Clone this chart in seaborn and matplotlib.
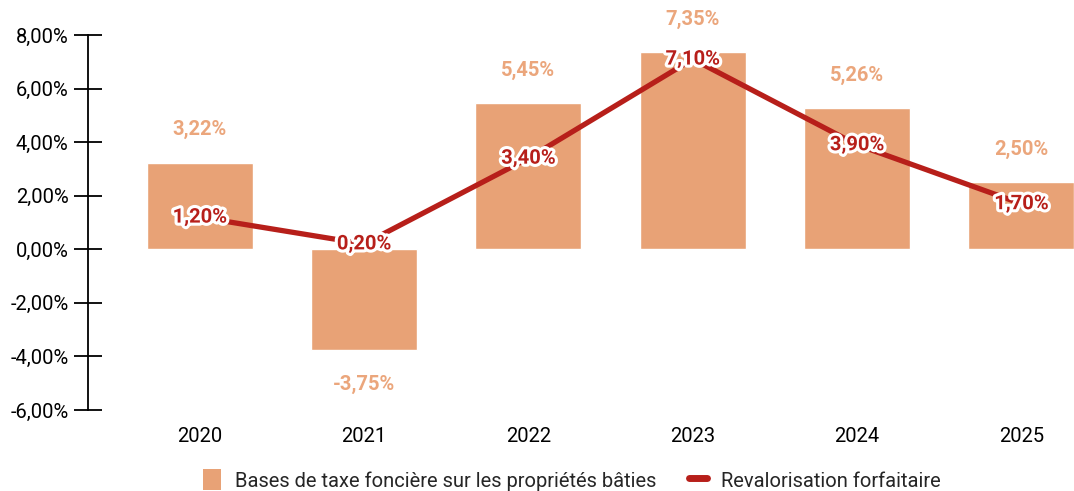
import numpy as np
import matplotlib
matplotlib.use("Agg")
import matplotlib.pyplot as plt
import matplotlib.patheffects as pe
from matplotlib.patches import Patch
from matplotlib.lines import Line2D
import seaborn as sns

years = ["2020", "2021", "2022", "2023", "2024", "2025"]
bases = [3.22, -3.75, 5.45, 7.35, 5.26, 2.50]
revalo = [1.20, 0.20, 3.40, 7.10, 3.90, 1.70]
y_ticks = [-6, -4, -2, 0, 2, 4, 6, 8]

bar_color = "#E8A276"
line_color = "#B71F1A"
fs = 14.5


def fr_pct(v):
    return f"{v:.2f}%".replace(".", ",")


sns.set_theme(style="white")
plt.rcParams["font.family"] = ["Roboto", "DejaVu Sans"]

fig = plt.figure(figsize=(10.74, 4.91), dpi=100)
ax = fig.add_axes([88 / 1074, 81 / 491, 986 / 1074, 375 / 491])

sns.barplot(x=years, y=bases, color=bar_color, saturation=1, width=0.645, ax=ax)
sns.lineplot(x=np.arange(len(years)), y=revalo, color=line_color, linewidth=3.8, ax=ax)

# bar labels above / below bars
for i, v in enumerate(bases):
    off = 24 if v >= 0 else -25
    ax.annotate(fr_pct(v), (i, v), xytext=(0, off), textcoords="offset points",
                ha="center", va="center", color="#EBA67C", fontsize=fs,
                fontweight="semibold", annotation_clip=False, clip_on=False)

# line labels on points with white outline
for i, v in enumerate(revalo):
    ax.text(i, v, fr_pct(v), ha="center", va="center", color=line_color,
            fontsize=fs, fontweight="bold", zorder=5,
            path_effects=[pe.withStroke(linewidth=4.5, foreground="white")])

ax.set_xlim(-0.68, 5.32)
ax.set_ylim(-6, 8)
ax.set_yticks(y_ticks)
ax.set_yticklabels([fr_pct(t) for t in y_ticks])
ax.tick_params(axis="y", left=True, length=12, width=1.3, direction="out",
               labelsize=fs, colors="black", pad=2)
ax.tick_params(axis="x", bottom=False, labelsize=fs, colors="black", pad=6)
for t in ax.get_yticklines():
    t.set_marker("_")
    t.set_markersize(20)
    t.set_markeredgewidth(1.3)

for s in ["top", "right", "bottom"]:
    ax.spines[s].set_visible(False)
ax.spines["left"].set_color("black")
ax.spines["left"].set_linewidth(1.3)
ax.set_xlabel("")
ax.set_ylabel("")

handles = [
    Patch(facecolor=bar_color, edgecolor="none", label="Bases de taxe foncière sur les propriétés bâties"),
    Line2D([0], [0], color=line_color, linewidth=5, label="Revalorisation forfaitaire"),
]
fig.legend(handles=handles, loc="center", bbox_to_anchor=(572 / 1074, 1 - 480 / 491),
           ncol=2, frameon=False, fontsize=fs, handlelength=0.9, handleheight=1.2,
           columnspacing=1.6, handletextpad=0.7)

fig.savefig("out.png", dpi=100)
